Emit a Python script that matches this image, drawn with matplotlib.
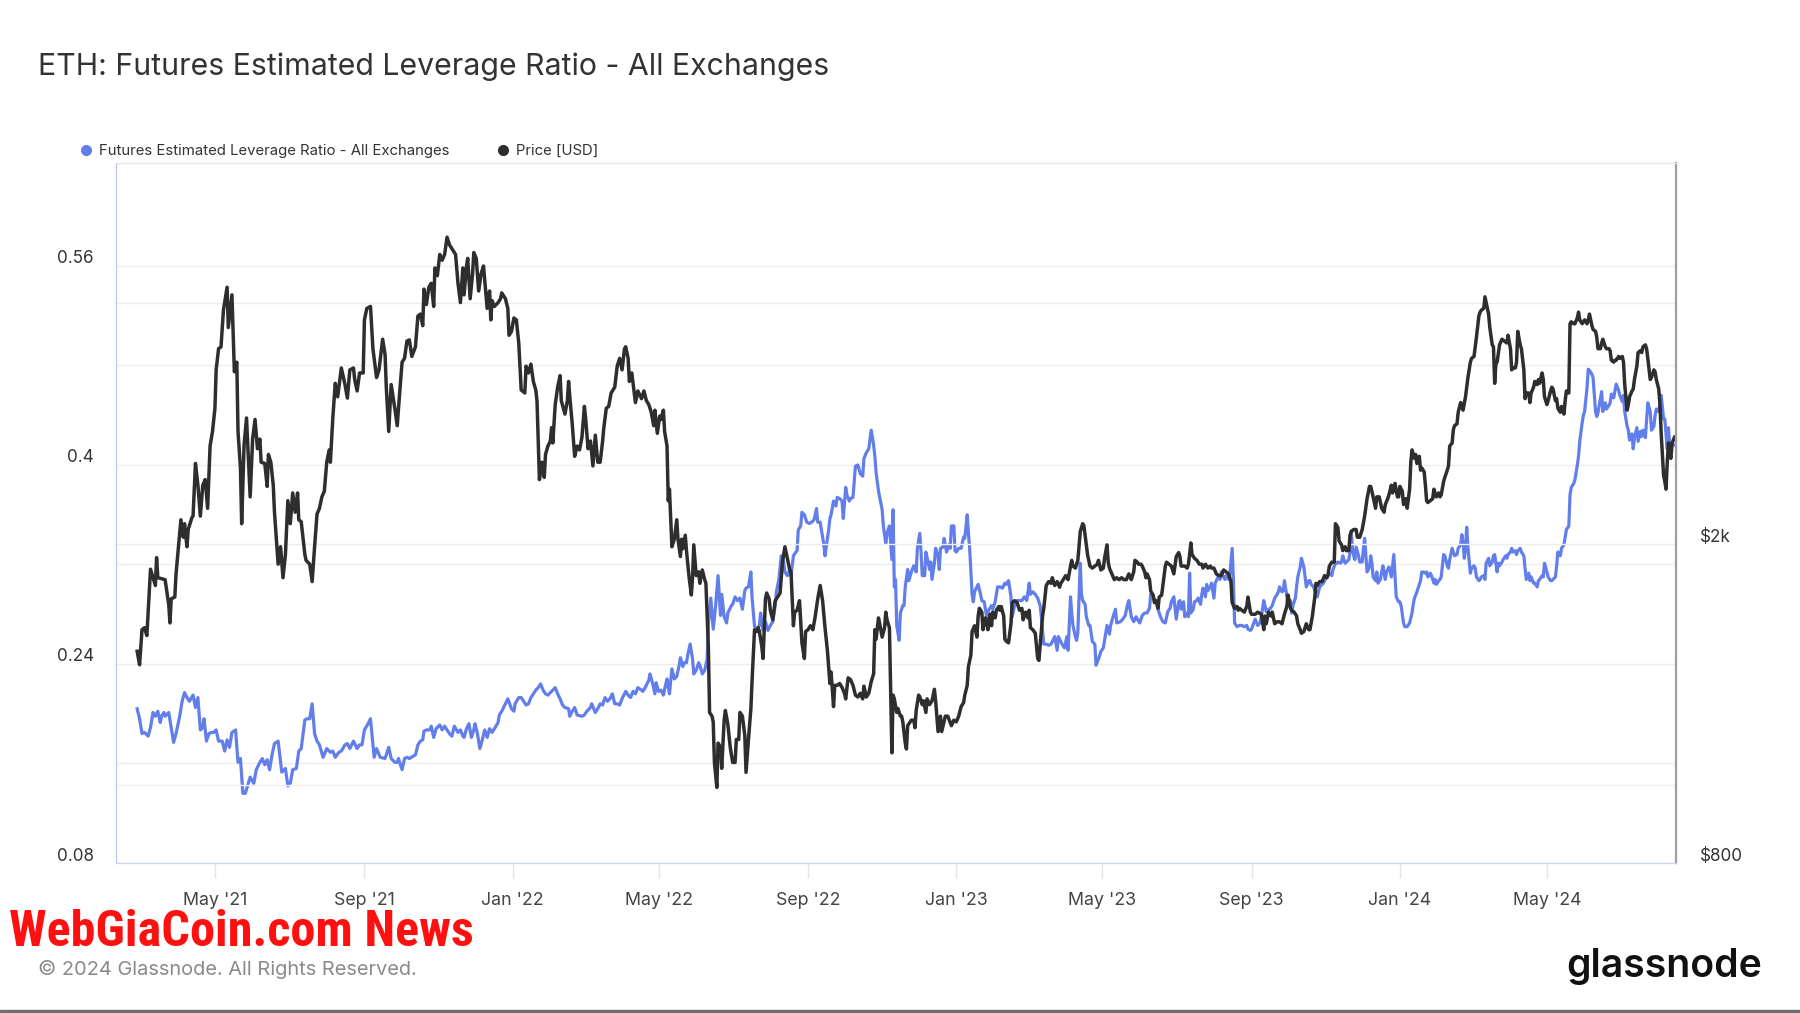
import matplotlib
matplotlib.use("Agg")
import matplotlib.pyplot as plt
import pandas as pd
from matplotlib import font_manager
from matplotlib.lines import Line2D
from matplotlib.ticker import FixedLocator, FixedFormatter, NullFormatter
from matplotlib.transforms import ScaledTranslation

plt.rcParams['font.family'] = ['Inter', 'DejaVu Sans']

# day offsets are counted from the first data point
start = pd.Timestamp('2021-02-26')

# (day, leverage ratio)
lev_points = [
    (0, 0.204), (2, 0.196), (4, 0.184), (6, 0.185), (9, 0.182), (11, 0.189), (13, 0.201), (15, 0.198),
    (17, 0.202), (19, 0.193), (20, 0.198), (22, 0.201), (23, 0.198), (26, 0.201), (27, 0.195), (30, 0.177),
    (32, 0.184), (35, 0.198), (37, 0.210), (39, 0.217), (41, 0.213), (43, 0.210), (46, 0.215), (48, 0.205),
    (50, 0.213), (52, 0.187), (54, 0.189), (55, 0.196), (57, 0.178), (59, 0.184), (61, 0.185), (63, 0.185),
    (65, 0.187), (67, 0.178), (70, 0.178), (72, 0.170), (74, 0.179), (76, 0.173), (78, 0.185), (81, 0.187),
    (83, 0.161), (85, 0.164), (87, 0.136), (89, 0.136), (93, 0.149), (96, 0.144), (98, 0.155), (101, 0.161),
    (103, 0.164), (105, 0.159), (107, 0.163), (109, 0.155), (111, 0.167), (113, 0.176), (116, 0.178), (118, 0.161),
    (119, 0.153), (122, 0.156), (124, 0.142), (126, 0.144), (128, 0.155), (131, 0.156), (133, 0.170), (135, 0.172),
    (138, 0.195), (140, 0.196), (142, 0.196), (144, 0.208), (146, 0.184), (148, 0.178), (150, 0.175), (153, 0.165),
    (156, 0.172), (159, 0.169), (161, 0.170), (163, 0.165), (166, 0.169), (168, 0.170), (171, 0.175), (173, 0.176),
    (175, 0.172), (178, 0.178), (181, 0.172), (183, 0.175), (185, 0.175), (187, 0.187), (190, 0.192), (192, 0.196),
    (195, 0.165), (197, 0.172), (200, 0.165), (204, 0.164), (207, 0.173), (209, 0.164), (212, 0.161),
    (214, 0.161), (215, 0.164), (218, 0.155), (220, 0.164), (222, 0.165), (224, 0.164), (229, 0.167), (231, 0.175),
    (233, 0.178), (235, 0.179), (236, 0.186), (238, 0.187), (241, 0.187), (242, 0.190), (244, 0.181), (246, 0.188),
    (249, 0.191), (251, 0.187), (253, 0.190), (255, 0.187), (257, 0.184), (259, 0.182), (261, 0.190), (264, 0.185),
    (266, 0.187), (268, 0.182), (269, 0.181), (271, 0.188), (273, 0.192), (275, 0.181), (277, 0.187), (278, 0.192),
    (280, 0.184), (282, 0.172), (284, 0.179), (286, 0.187), (288, 0.181), (290, 0.188), (292, 0.185), (294, 0.188),
    (297, 0.193), (298, 0.199), (300, 0.202), (303, 0.208), (305, 0.212), (308, 0.204), (310, 0.202), (311, 0.208),
    (314, 0.213), (316, 0.213), (318, 0.210), (320, 0.207), (322, 0.208), (324, 0.213), (326, 0.216), (328, 0.219),
    (330, 0.221), (332, 0.224), (334, 0.219), (336, 0.216), (338, 0.215), (341, 0.218), (344, 0.221), (346, 0.216),
    (348, 0.212), (350, 0.207), (352, 0.205), (355, 0.204), (356, 0.198), (358, 0.202), (360, 0.205), (362, 0.199),
    (366, 0.198), (368, 0.199), (370, 0.202), (373, 0.205), (374, 0.208), (377, 0.201), (379, 0.204), (381, 0.208),
    (383, 0.207), (385, 0.213), (387, 0.210), (389, 0.212), (391, 0.216), (393, 0.208), (395, 0.208), (397, 0.207),
    (399, 0.212), (402, 0.218), (404, 0.215), (406, 0.213), (408, 0.218), (410, 0.216), (412, 0.221), (415, 0.219),
    (416, 0.218), (418, 0.221), (421, 0.227), (422, 0.232), (424, 0.225), (426, 0.216),
    (427, 0.225), (429, 0.218), (431, 0.219), (433, 0.215), (435, 0.224), (436, 0.228), (438, 0.216), (440, 0.236),
    (442, 0.228), (444, 0.230), (446, 0.239), (447, 0.245), (449, 0.238), (450, 0.241), (452, 0.241), (453, 0.247),
    (455, 0.256), (457, 0.244), (458, 0.232), (460, 0.235), (462, 0.241), (463, 0.239), (465, 0.232), (467, 0.235),
    (469, 0.244), (470, 0.271), (472, 0.293), (474, 0.268), (476, 0.287), (478, 0.311), (480, 0.279), (481, 0.296),
    (483, 0.278), (485, 0.273), (486, 0.281), (489, 0.287), (490, 0.288), (492, 0.294), (494, 0.291), (496, 0.293),
    (498, 0.284), (500, 0.299), (501, 0.301), (503, 0.302), (505, 0.314), (506, 0.293), (508, 0.270), (510, 0.268),
    (512, 0.271), (513, 0.281), (515, 0.267), (517, 0.274), (519, 0.267), (521, 0.271), (523, 0.274), (525, 0.287),
    (526, 0.298), (528, 0.308), (530, 0.327), (532, 0.322), (533, 0.314), (535, 0.311), (537, 0.316), (538, 0.311),
    (540, 0.327), (542, 0.330), (543, 0.331), (544, 0.348), (546, 0.351), (547, 0.362), (549, 0.360), (551, 0.354),
    (553, 0.353), (555, 0.354), (557, 0.356), (559, 0.365), (560, 0.354), (562, 0.354), (563, 0.348), (565, 0.336),
    (566, 0.327), (567, 0.334), (569, 0.348), (570, 0.357), (571, 0.360), (573, 0.371), (575, 0.367), (576, 0.374),
    (578, 0.373), (580, 0.371), (581, 0.357), (583, 0.382), (584, 0.376), (586, 0.371), (587, 0.373), (589, 0.374),
    (591, 0.399), (593, 0.400), (595, 0.393), (597, 0.391), (598, 0.405), (600, 0.410), (602, 0.413), (604, 0.428),
    (606, 0.416), (607, 0.407), (608, 0.394), (610, 0.379), (613, 0.364), (614, 0.351), (616, 0.337), (617, 0.345),
    (619, 0.351), (621, 0.324), (622, 0.364), (623, 0.302), (624, 0.308), (625, 0.271), (627, 0.259), (628, 0.281),
    (630, 0.287), (631, 0.287), (632, 0.302), (634, 0.316), (635, 0.307), (637, 0.314), (639, 0.319),
    (641, 0.314), (642, 0.333), (644, 0.345), (645, 0.330), (646, 0.311), (648, 0.311), (649, 0.330), (651, 0.321),
    (652, 0.316), (653, 0.322), (654, 0.308), (656, 0.321), (657, 0.333), (659, 0.327), (660, 0.316), (661, 0.333),
    (663, 0.334), (664, 0.341), (666, 0.330), (668, 0.336), (669, 0.333), (670, 0.351), (672, 0.351), (673, 0.331),
    (674, 0.330), (676, 0.333), (678, 0.333), (680, 0.342), (681, 0.341), (683, 0.360), (684, 0.345), (685, 0.333),
    (687, 0.296), (688, 0.290), (689, 0.298), (691, 0.302), (692, 0.304), (694, 0.296), (695, 0.291), (697, 0.290),
    (699, 0.278), (701, 0.284), (703, 0.287), (704, 0.284), (706, 0.290), (708, 0.302), (710, 0.302), (712, 0.301),
    (714, 0.305), (715, 0.304), (717, 0.307), (719, 0.294), (720, 0.278), (722, 0.287), (724, 0.291), (726, 0.291),
    (728, 0.291), (730, 0.294), (732, 0.291), (734, 0.305), (735, 0.296), (737, 0.298), (739, 0.296), (741, 0.293),
    (743, 0.287), (744, 0.278), (746, 0.256), (748, 0.256), (750, 0.255), (752, 0.256), (755, 0.262), (757, 0.251),
    (758, 0.262), (761, 0.256), (763, 0.253), (765, 0.262), (766, 0.251), (768, 0.294), (769, 0.281), (770, 0.271),
    (772, 0.262), (773, 0.259), (774, 0.265), (776, 0.321), (777, 0.296), (778, 0.291), (780, 0.288), (781, 0.278),
    (783, 0.271), (784, 0.271), (786, 0.258), (788, 0.256), (789, 0.239), (791, 0.244), (793, 0.250), (795, 0.253),
    (796, 0.259), (798, 0.271), (800, 0.264), (801, 0.271), (803, 0.278), (805, 0.284), (806, 0.273), (809, 0.274),
    (811, 0.276), (813, 0.279), (815, 0.288), (816, 0.291), (818, 0.278), (820, 0.274), (822, 0.278), (823, 0.276),
    (825, 0.273), (827, 0.279), (829, 0.281), (831, 0.281), (833, 0.285), (834, 0.296), (836, 0.294), (838, 0.290),
    (840, 0.284), (842, 0.278), (844, 0.274), (846, 0.273), (848, 0.282), (850, 0.285), (851, 0.290), (853, 0.294),
    (855, 0.276), (857, 0.290), (858, 0.291), (859, 0.284), (861, 0.290), (862, 0.278), (864, 0.281), (865, 0.278),
    (866, 0.313), (867, 0.281), (869, 0.284), (870, 0.290), (872, 0.291), (873, 0.293), (875, 0.288), (876, 0.296),
    (877, 0.301), (879, 0.294), (880, 0.304), (881, 0.299), (883, 0.302), (884, 0.305), (886, 0.293), (887, 0.305),
    (888, 0.307), (890, 0.311), (891, 0.308), (892, 0.314), (894, 0.310), (895, 0.308), (896, 0.311), (898, 0.308),
    (899, 0.311), (901, 0.333), (902, 0.308), (903, 0.273), (905, 0.270), (907, 0.271), (909, 0.271), (911, 0.270),
    (913, 0.271), (914, 0.268), (916, 0.267), (917, 0.268), (918, 0.271), (920, 0.276), (922, 0.271), (924, 0.273),
    (925, 0.278), (927, 0.291), (928, 0.287), (929, 0.282), (931, 0.284), (932, 0.284), (934, 0.287), (936, 0.293),
    (938, 0.296), (939, 0.298), (940, 0.302), (942, 0.298), (943, 0.299), (944, 0.307), (946, 0.294), (947, 0.288),
    (949, 0.291), (950, 0.281), (951, 0.287), (953, 0.293), (954, 0.302), (955, 0.310), (957, 0.318), (958, 0.325),
    (960, 0.318), (961, 0.310), (962, 0.302), (964, 0.307), (965, 0.307), (966, 0.304), (968, 0.302), (969, 0.299),
    (971, 0.294), (972, 0.298), (973, 0.302), (975, 0.304), (976, 0.305), (977, 0.307), (979, 0.310), (980, 0.311),
    (981, 0.313), (983, 0.311), (984, 0.316), (986, 0.321), (987, 0.321), (988, 0.322), (990, 0.321), (991, 0.322),
    (992, 0.327), (994, 0.321), (995, 0.322), (997, 0.324), (998, 0.330), (999, 0.347), (1000, 0.333), (1001, 0.327),
    (1002, 0.324), (1003, 0.334), (1005, 0.327), (1006, 0.322), (1008, 0.322), (1009, 0.333), (1010, 0.341),
    (1011, 0.327), (1012, 0.314), (1014, 0.318), (1015, 0.327), (1016, 0.321), (1017, 0.310), (1019, 0.307),
    (1020, 0.314), (1021, 0.305), (1023, 0.308), (1024, 0.314), (1025, 0.319), (1027, 0.308), (1028, 0.314),
    (1030, 0.318), (1031, 0.314), (1032, 0.310), (1034, 0.328), (1035, 0.311), (1036, 0.294), (1038, 0.290),
    (1039, 0.290), (1040, 0.287), (1042, 0.273), (1043, 0.270), (1045, 0.270), (1047, 0.273), (1049, 0.281),
    (1050, 0.288), (1051, 0.293), (1053, 0.298), (1054, 0.301), (1056, 0.307), (1057, 0.314), (1058, 0.314),
    (1060, 0.313), (1061, 0.314), (1062, 0.310), (1064, 0.313), (1065, 0.311), (1067, 0.305),
    (1068, 0.308), (1069, 0.304), (1071, 0.307), (1072, 0.308), (1073, 0.310), (1075, 0.328), (1076, 0.327),
    (1078, 0.319), (1079, 0.317), (1080, 0.324), (1082, 0.333), (1083, 0.330), (1084, 0.327), (1086, 0.328),
    (1087, 0.333), (1089, 0.336), (1090, 0.344), (1091, 0.337), (1092, 0.325), (1093, 0.333), (1094, 0.350),
    (1095, 0.333), (1097, 0.313), (1098, 0.317), (1100, 0.319), (1101, 0.317), (1102, 0.310), (1104, 0.307),
    (1105, 0.308), (1106, 0.310), (1108, 0.311), (1109, 0.308), (1110, 0.321), (1112, 0.325), (1113, 0.319),
    (1115, 0.322), (1116, 0.327), (1117, 0.328), (1119, 0.314), (1120, 0.321), (1121, 0.319), (1123, 0.322),
    (1124, 0.324), (1126, 0.327), (1127, 0.325), (1128, 0.328), (1130, 0.330), (1131, 0.333), (1132, 0.330),
    (1134, 0.331), (1135, 0.328), (1136, 0.331), (1138, 0.333), (1139, 0.330), (1141, 0.327), (1142, 0.317),
    (1143, 0.308), (1145, 0.313), (1146, 0.307), (1147, 0.310), (1149, 0.305), (1150, 0.305), (1152, 0.302),
    (1153, 0.307), (1154, 0.308), (1156, 0.311), (1157, 0.310), (1158, 0.321), (1160, 0.314), (1161, 0.310),
    (1163, 0.307), (1164, 0.307), (1165, 0.308), (1167, 0.310), (1168, 0.319), (1169, 0.330), (1171, 0.327),
    (1172, 0.333), (1174, 0.336), (1175, 0.342), (1176, 0.348), (1178, 0.351), (1179, 0.376), (1180, 0.382),
    (1182, 0.385), (1183, 0.388), (1185, 0.400), (1186, 0.407), (1187, 0.419), (1189, 0.434), (1190, 0.440),
    (1191, 0.443), (1193, 0.462), (1194, 0.477), (1195, 0.476), (1197, 0.473), (1198, 0.470), (1200, 0.443),
    (1201, 0.439), (1202, 0.442), (1204, 0.453), (1205, 0.459), (1206, 0.443), (1208, 0.450), (1209, 0.445),
    (1211, 0.448), (1212, 0.450), (1213, 0.457), (1215, 0.454), (1216, 0.460), (1217, 0.465), (1219, 0.460),
    (1220, 0.456), (1222, 0.451), (1223, 0.456), (1224, 0.443), (1226, 0.431), (1227, 0.428), (1228, 0.420),
    (1230, 0.425), (1231, 0.413), (1232, 0.422), (1234, 0.430), (1235, 0.419), (1237, 0.427), (1238, 0.423),
    (1239, 0.428), (1241, 0.422), (1242, 0.436), (1243, 0.450), (1245, 0.443), (1246, 0.428), (1248, 0.431),
    (1249, 0.440), (1250, 0.445), (1252, 0.443), (1253, 0.450), (1254, 0.456), (1256, 0.437), (1257, 0.437),
    (1259, 0.413), (1260, 0.430), (1261, 0.416), (1263, 0.416), (1264, 0.416),
]

# (day, ETH price in USD)
price_points = [
    (0, 1470), (2, 1414), (4, 1564), (6, 1573), (8, 1538), (11, 1861), (15, 1776), (16, 1924), (17, 1816),
    (23, 1806), (26, 1680), (27, 1595), (28, 1709), (31, 1718), (32, 1836), (36, 2145), (38, 2040), (39, 2121),
    (41, 1985), (42, 2086), (45, 2157), (46, 2168), (48, 2522), (50, 2369), (52, 2168), (54, 2369), (56, 2408),
    (58, 2217), (60, 2651), (62, 2765), (64, 2955), (65, 3300), (67, 3507), (69, 3526), (71, 3917), (74, 4185),
    (75, 3727), (78, 4094), (80, 3282), (82, 3374), (83, 2765), (85, 2490), (86, 2121), (88, 2661), (90, 2874),
    (93, 2291), (95, 2705), (97, 2862), (99, 2631), (101, 2705), (102, 2531), (105, 2522), (107, 2361), (108, 2588),
    (110, 2531), (112, 2369), (113, 2192), (116, 1888), (118, 1985), (120, 1816), (122, 1941), (124, 2266),
    (126, 2121), (128, 2317), (130, 2192), (132, 2317), (133, 2145), (135, 2133), (138, 1941), (139, 1909),
    (142, 1888), (144, 1796), (146, 1985), (148, 2180), (150, 2217), (152, 2291), (154, 2328), (156, 2531),
    (158, 2622), (159, 2531), (161, 2874), (163, 3175), (165, 3054), (168, 3318), (171, 3164), (173, 3043),
    (175, 3300), (178, 3318), (179, 3210), (181, 3106), (183, 3271), (186, 3271), (187, 3810), (189, 3938),
    (192, 3960), (194, 3507), (195, 3411), (197, 3228), (199, 3300), (202, 3604), (204, 3449), (205, 3140),
    (207, 2765), (209, 3164), (212, 2955),
    (214, 2811), (216, 3088), (218, 3374), (220, 3411), (222, 3585), (224, 3597), (226, 3430), (229, 3526),
    (231, 3852), (233, 3874), (235, 3747), (236, 4162), (238, 3982), (240, 4185), (242, 4232), (244, 3960),
    (245, 4423), (247, 4326), (249, 4598), (251, 4522), (253, 4598), (255, 4832), (257, 4727), (260, 4649),
    (262, 4598), (264, 4232), (266, 4004), (268, 4423), (269, 4094), (271, 4448), (272, 4547), (274, 4049),
    (276, 4350), (277, 4623), (279, 4547), (281, 4139), (283, 4350), (285, 4448), (288, 3938), (290, 4139),
    (291, 3810), (292, 4027), (294, 3960), (297, 4004), (299, 4049), (300, 4117), (303, 4049), (305, 3938),
    (306, 3645), (308, 3686), (310, 3831), (312, 3810), (314, 3565), (316, 3115), (319, 3088), (320, 3336),
    (322, 3271), (324, 3355), (326, 3192), (328, 3115), (329, 3021), (331, 2408), (333, 2531), (335, 2423),
    (336, 2588), (338, 2651), (340, 2690), (341, 2795), (342, 2675), (344, 2987), (346, 3140), (348, 3246),
    (349, 3021), (352, 2906), (354, 3021), (355, 3192), (356, 3054), (358, 2826), (360, 2574), (362, 2651),
    (364, 2622), (366, 2720), (368, 2971), (369, 2874), (371, 2631), (373, 2690), (375, 2504), (377, 2735),
    (379, 2531), (381, 2531), (383, 2690), (384, 2795), (386, 2955), (388, 2971), (390, 3088), (393, 3140),
    (395, 3336), (397, 3411), (399, 3300), (401, 3507), (402, 3526), (404, 3411), (405, 3192), (407, 3271),
    (410, 3004), (412, 3106), (415, 3038), (417, 3106), (419, 3021), (421, 2987), (423, 2922), (425, 2811),
    (426, 2939), (428, 2750), (430, 2890), (431, 2862), (433, 2939), (434, 2765), (436, 2651), (437, 2266),
    (438, 2342), (440, 1985), (442, 2029), (444, 2145), (445, 2029), (447, 1930), (448, 2029), (449, 1974),
    (451, 2052), (452, 1963), (454, 1827), (456, 1728), (457, 1816), (458, 1996), (460, 1827), (462, 1847),
    (463, 1787), (465, 1857), (467, 1806), (468, 1787), (470, 1489), (471, 1233), (473, 1220), (474, 1200),
    (475, 1068), (477, 994), (478, 1129), (480, 1116), (481, 1050), (483, 1206), (484, 1240), (486, 1193),
    (488, 1116), (490, 1068), (492, 1068), (493, 1141), (495, 1141), (496, 1233), (498, 1220), (500, 1154),
    (501, 1038), (503, 1141), (505, 1247), (506, 1355), (508, 1564), (510, 1556), (511, 1573), (512, 1556),
    (514, 1489), (515, 1440), (517, 1709), (518, 1738), (520, 1709), (521, 1654), (523, 1609), (525, 1700),
    (527, 1718), (529, 1738), (531, 1899), (533, 1985), (535, 1920), (537, 1857), (538, 1847), (540, 1582),
    (541, 1645), (543, 1654), (545, 1700), (547, 1506), (549, 1440), (550, 1556), (552, 1564), (554, 1582),
    (556, 1564), (558, 1627), (560, 1709), (562, 1776), (564, 1700), (565, 1635), (566, 1573), (568, 1471),
    (570, 1340), (571, 1385), (573, 1254), (574, 1333), (576, 1333), (578, 1340), (580, 1325), (582, 1303),
    (583, 1282), (585, 1362), (587, 1355), (589, 1333), (591, 1296), (593, 1289), (595, 1303), (597, 1282),
    (598, 1330), (600, 1289), (602, 1303), (604, 1347), (606, 1378), (607, 1564), (608, 1522), (610, 1618),
    (611, 1591), (613, 1531), (615, 1573), (616, 1645), (617, 1609), (619, 1573), (621, 1098), (622, 1296),
    (623, 1282), (625, 1233), (626, 1247), (628, 1220), (629, 1220), (630, 1200), (632, 1129), (633, 1110),
    (634, 1187), (637, 1206), (639, 1206),
    (640, 1180), (641, 1240), (643, 1296), (644, 1289), (646, 1261), (647, 1275), (649, 1233), (650, 1282),
    (652, 1261), (654, 1275), (656, 1318), (657, 1275), (659, 1167), (661, 1220), (662, 1167), (665, 1220),
    (667, 1220), (670, 1187), (672, 1206), (674, 1200), (676, 1220), (678, 1254), (680, 1268), (681, 1296),
    (683, 1333), (684, 1407), (686, 1454), (687, 1556), (689, 1582), (691, 1531), (692, 1627), (693, 1663),
    (695, 1645), (696, 1564), (698, 1618), (699, 1609), (700, 1564), (702, 1635), (703, 1582), (704, 1645),
    (706, 1618), (707, 1654), (709, 1672), (710, 1654), (711, 1672), (713, 1627), (714, 1522), (715, 1514),
    (717, 1506), (719, 1591), (720, 1691), (722, 1700), (724, 1691), (726, 1654), (728, 1663), (729, 1609),
    (731, 1645), (733, 1618), (734, 1654), (735, 1573), (737, 1564), (739, 1548), (741, 1440), (742, 1432),
    (744, 1556), (745, 1627), (746, 1663), (748, 1776), (750, 1796), (752, 1787), (753, 1816), (755, 1776),
    (757, 1796), (759, 1767), (760, 1787), (762, 1806), (764, 1827), (766, 1806), (768, 1878), (769, 1909),
    (770, 1878), (772, 1867), (774, 1909), (775, 1985), (776, 2074), (778, 2121), (779, 2109), (780, 2052),
    (782, 1941), (784, 1878), (786, 1867), (788, 1878), (790, 1888), (791, 1909), (793, 1857), (795, 1867),
    (796, 1920), (798, 1996), (799, 1899), (800, 1867), (802, 1836), (804, 1806), (806, 1816), (808, 1806),
    (810, 1816), (812, 1806), (814, 1806), (816, 1836), (818, 1806), (820, 1847), (821, 1909), (823, 1899),
    (824, 1888), (826, 1888), (827, 1878), (829, 1847), (830, 1816), (831, 1836), (833, 1806), (834, 1747),
    (836, 1728), (837, 1691), (839, 1700), (840, 1663), (841, 1718), (843, 1728), (844, 1776), (846, 1878),
    (847, 1899), (849, 1888), (851, 1878), (853, 1836),
    (855, 1930), (857, 1952), (858, 1930), (859, 1878), (862, 1878), (864, 1867), (865, 1888), (866, 1941),
    (867, 2007), (868, 1941), (870, 1920), (872, 1909), (874, 1888), (876, 1888), (877, 1867), (879, 1888),
    (881, 1867), (883, 1878), (884, 1867), (886, 1867), (888, 1836), (890, 1827), (892, 1827), (894, 1857),
    (896, 1847), (898, 1836), (899, 1816), (900, 1796), (901, 1691), (903, 1663), (905, 1672), (906, 1654),
    (907, 1663), (909, 1654), (911, 1645), (913, 1672), (914, 1718), (916, 1645), (917, 1635), (918, 1635),
    (920, 1635), (922, 1645), (925, 1635), (927, 1564), (928, 1627), (929, 1591), (931, 1645), (933, 1627),
    (934, 1645), (936, 1591), (938, 1600), (940, 1600), (942, 1591), (944, 1635), (946, 1672), (947, 1728),
    (949, 1663), (950, 1654), (952, 1645), (954, 1627), (955, 1591), (957, 1564), (958, 1548), (960, 1556),
    (962, 1591), (964, 1564), (965, 1564), (967, 1627), (969, 1718), (970, 1787), (971, 1776), (973, 1796),
    (975, 1796), (977, 1827), (979, 1816), (980, 1836), (981, 1878), (983, 1899), (985, 1899), (986, 2121),
    (988, 2098), (989, 2018), (991, 1996), (992, 1963), (994, 1985), (995, 1963), (997, 1963), (998, 2052),
    (999, 2074), (1001, 2086), (1003, 2086), (1004, 2040), (1006, 2040), (1008, 2086), (1010, 2168),
    (1012, 2279), (1014, 2361), (1015, 2361), (1017, 2291), (1019, 2217), (1020, 2291), (1022, 2291),
    (1024, 2217), (1026, 2192), (1027, 2241), (1029, 2279), (1030, 2304), (1032, 2369), (1033, 2317),
    (1035, 2382), (1037, 2291), (1038, 2291), (1039, 2361), (1041, 2328), (1042, 2241), (1044, 2279),
    (1045, 2217), (1047, 2342), (1048, 2531), (1049, 2622), (1051, 2559), (1052, 2588), (1053, 2522),
    (1055, 2574), (1056, 2474), (1057, 2490), (1059, 2461), (1060, 2369), (1061, 2266), (1062, 2254),
    (1064, 2266), (1066, 2279), (1067, 2342),
    (1069, 2291), (1071, 2317), (1072, 2291), (1073, 2304), (1075, 2395), (1076, 2423), (1078, 2474),
    (1079, 2504), (1080, 2651), (1082, 2675), (1083, 2780), (1084, 2811), (1086, 2826), (1087, 2922),
    (1089, 3004), (1090, 2987), (1091, 2939), (1093, 3054), (1094, 3140), (1095, 3228), (1097, 3374),
    (1098, 3411), (1100, 3430), (1101, 3526), (1102, 3625), (1104, 3852), (1105, 3895), (1106, 3917),
    (1108, 3938), (1109, 4071), (1110, 4006), (1112, 3874), (1113, 3727), (1115, 3546), (1116, 3526),
    (1117, 3175), (1118, 3355), (1119, 3374), (1121, 3546), (1123, 3604), (1125, 3585), (1127, 3565),
    (1128, 3645), (1130, 3507), (1131, 3300), (1132, 3318), (1134, 3318), (1135, 3374), (1136, 3686),
    (1138, 3546), (1139, 3507), (1141, 3300), (1142, 3038), (1143, 3088), (1145, 3088), (1146, 3004),
    (1147, 3088), (1149, 3140), (1150, 3192), (1152, 3164), (1153, 3210), (1154, 3175), (1156, 3271),
    (1157, 3210), (1158, 3054), (1160, 2987), (1161, 3021), (1163, 3106), (1164, 3140), (1165, 3123),
    (1167, 3021), (1168, 3038), (1169, 2955), (1171, 2922), (1172, 2971), (1174, 2906), (1175, 3021),
    (1176, 3106), (1178, 3088), (1179, 3768), (1180, 3789), (1182, 3768), (1183, 3768), (1185, 3831),
    (1186, 3895), (1187, 3810), (1189, 3768), (1190, 3789), (1191, 3810), (1193, 3768), (1194, 3810),
    (1195, 3874), (1197, 3747), (1198, 3706), (1200, 3686), (1201, 3625), (1202, 3507), (1204, 3507),
    (1205, 3565), (1206, 3604), (1208, 3526), (1209, 3507), (1211, 3507), (1212, 3488), (1213, 3393),
    (1215, 3374), (1216, 3393), (1217, 3393), (1219, 3430), (1220, 3411), (1222, 3430), (1223, 3374),
    (1224, 3164), (1226, 2939), (1227, 2987), (1228, 3054), (1230, 3106), (1231, 3123), (1232, 3210),
    (1234, 3336), (1235, 3468), (1237, 3488), (1238, 3468), (1239, 3526), (1241, 3546), (1242, 3507),
    (1243, 3411), (1245, 3210), (1246, 3228), (1248, 3300), (1249, 3282), (1250, 3210), (1252, 3123),
    (1253, 2987), (1254, 2750), (1256, 2435), (1257, 2395), (1258, 2342), (1259, 2531), (1260, 2675),
    (1261, 2588), (1262, 2559), (1263, 2675), (1265, 2720),
]

lev_ticks = [0.08, 0.24, 0.40, 0.56]
lev_tick_labels = ['0.08', '0.24', '0.4', '0.56']
lev_minor = [0.16, 0.32, 0.48]
price_ticks = [800, 2000]
price_tick_labels = ['$800', '$2k']
price_minor = [1000, 4000]
month_ticks = ['2021-05-01', '2021-09-01', '2022-01-01', '2022-05-01', '2022-09-01',
               '2023-01-01', '2023-05-01', '2023-09-01', '2024-01-01', '2024-05-01']
month_labels = ["May '21", "Sep '21", "Jan '22", "May '22", "Sep '22",
                "Jan '23", "May '23", "Sep '23", "Jan '24", "May '24"]

lev_days, lev_vals = zip(*lev_points)
price_days, price_vals = zip(*price_points)
lev_dates = start + pd.to_timedelta(list(lev_days), unit='D')
price_dates = start + pd.to_timedelta(list(price_days), unit='D')

W, H = 1800, 1013
fig = plt.figure(figsize=(W / 100, H / 100), dpi=100)
ax = fig.add_axes([116 / W, 1 - 863 / H, 1560 / W, 700 / H])
ax2 = ax.twinx()

blue = '#627eea'
dark = '#2e2e2e'
grid_c = '#ededed'

ax.plot(lev_dates, lev_vals, color=blue, lw=2.3, solid_joinstyle='round')
ax2.plot(price_dates, price_vals, color=dark, lw=2.5, solid_joinstyle='round')

ax.set_xlim(start - pd.Timedelta(days=17.4), start + pd.Timedelta(days=1266.2))
ax.set_ylim(0.08, 0.6428)
ax2.set_yscale('log')
ax2.set_ylim(800, 5980)

# left axis
ax.set_yticks(lev_ticks)
ax.set_yticklabels(lev_tick_labels)
ax.set_yticks(lev_minor, minor=True)
ax.tick_params(axis='y', which='both', length=0, pad=16, labelsize=12.3, labelcolor='#333333')
ax.grid(axis='y', which='both', color=grid_c, lw=1)

# right axis (log)
ax2.yaxis.set_major_locator(FixedLocator(price_ticks))
ax2.yaxis.set_major_formatter(FixedFormatter(price_tick_labels))
ax2.yaxis.set_minor_locator(FixedLocator(price_minor))
ax2.yaxis.set_minor_formatter(NullFormatter())
ax2.tick_params(axis='y', which='both', length=0, pad=17, labelsize=12.3, labelcolor='#333333')
ax2.grid(axis='y', which='both', color=grid_c, lw=1)
ax2.set_axisbelow(True)

# x axis
ax.set_xticks(pd.to_datetime(month_ticks))
ax.set_xticklabels(month_labels)
ax.tick_params(axis='x', length=11, width=1, color='#e4e4e4', pad=10, labelsize=12.8, labelcolor='#444444')

# nudge y labels up a little, like the original
up = ScaledTranslation(0, 0.09, fig.dpi_scale_trans)
for lbl in ax.get_yticklabels() + ax2.get_yticklabels():
    lbl.set_transform(lbl.get_transform() + up)

for a in (ax, ax2):
    a.spines['top'].set_color('#e6e6e6')
    a.spines['bottom'].set_color('#ccd6eb')
    a.spines['left'].set_color('#b9c7f6')
    a.spines['right'].set_color('#a0a0a0')
ax2.spines['right'].set_linewidth(1.6)

# legend
handles = [Line2D([], [], marker='o', ls='none', color=blue, markersize=7),
           Line2D([], [], marker='o', ls='none', color=dark, markersize=7)]
fig.legend(handles, ['Futures Estimated Leverage Ratio - All Exchanges', 'Price [USD]'],
           loc='center left', bbox_to_anchor=(80.5 / W, 1 - 151 / H), ncol=2, frameon=False,
           fontsize=10.75, handlelength=0.8, handletextpad=0.45, columnspacing=3.2,
           borderpad=0, borderaxespad=0, labelcolor='#333333')

fig.text(38 / W, 1 - 75 / H, 'ETH: Futures Estimated Leverage Ratio - All Exchanges',
         fontsize=21.8, color='#333333', va='baseline', ha='left')
fig.text(38 / W, 1 - 975 / H, '\u00a9 2024 Glassnode. All Rights Reserved.',
         fontsize=14.4, color='#8a8a8a', va='baseline', ha='left')

# watermark: use a narrow face if one is installed
names = {f.name for f in font_manager.fontManager.ttflist}
narrow = [n for n in ('Liberation Sans Narrow', 'Roboto Condensed', 'Open Sans Condensed',
                      'DejaVu Sans Condensed', 'Noto Sans Display') if n in names]
if narrow:
    fig.text(9 / W, 1 - 946 / H, 'WebGiaCoin.com News', fontsize=36.2, color='#ff1010',
             weight='bold', family=[narrow[0], 'DejaVu Sans'], fontstretch='condensed',
             va='baseline', ha='left')
else:
    fig.text(9 / W, 1 - 943 / H, 'WebGiaCoin.com News', fontsize=27, color='#ff1010',
             weight='bold', family=['Roboto', 'DejaVu Sans'], va='baseline', ha='left')

fig.text(1762 / W, 1 - 977 / H, 'glassnode', fontsize=28.2, color='#111111',
         weight='semibold', va='baseline', ha='right')

# thin dark strip along the bottom edge
fig.patches.append(plt.Rectangle((0, 0), 1, 3 / H, transform=fig.transFigure,
                                 color='#6e6e6e', zorder=5))

fig.savefig('out.png', dpi=100)
